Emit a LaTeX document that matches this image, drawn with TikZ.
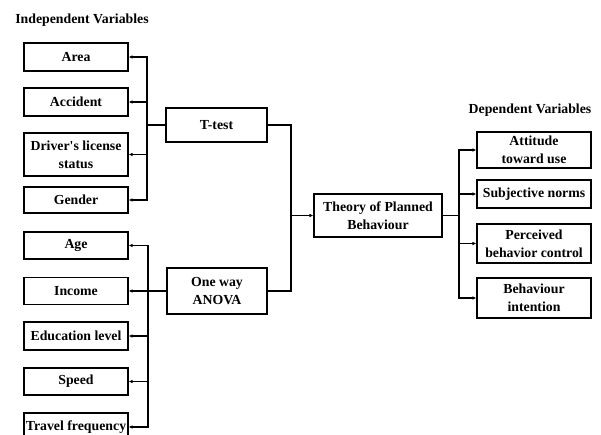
\documentclass[tikz,border=0pt]{standalone}
\usepackage{fontspec}
\setmainfont{Liberation Serif}
\usetikzlibrary{arrows.meta}
\begin{document}
\begin{tikzpicture}[x=1pt,y=-1pt,font=\bfseries\fontsize{13.8}{18}\selectfont]
	\useasboundingbox (0,0) rectangle (601,435);
	\node (indep) at (82,20) {Independent Variables};
	\node (dep) at (530,110) {Dependent Variables};
	\begin{scope}[every node/.style={draw,line width=1.1pt,align=center,inner sep=1pt,minimum width=104pt}]
	  \node[minimum height=28pt] (area) at (76,57) {Area};
	  \node[minimum height=28pt] (accident) at (76,102) {Accident};
	  \node[minimum height=43pt] (license) at (76,154.5) {Driver\textquotesingle s license\\status};
	  \node[minimum height=26pt] (gender) at (76,200) {Gender};
	  \node[minimum height=27pt] (age) at (76,245.5) {Age};
	  \node[minimum height=27pt] (income) at (76,291) {Income};
	  \node[minimum height=28pt] (edu) at (76,336) {Education level};
	  \node[minimum height=27pt] (speed) at (76,381.5) {Speed};
	  \node[minimum height=28pt] (travel) at (76,427) {Travel frequency};
	  \node[minimum width=101pt,minimum height=34pt] (ttest) at (216.5,125) {T-test};
	  \node[minimum width=100pt,minimum height=46pt] (anova) at (217,291) {One way\\ANOVA};
	  \node[minimum width=128pt,minimum height=43pt] (tpb) at (378,215.5) {Theory of Planned\\Behaviour};
	  \node[minimum width=114pt,minimum height=36pt] (attitude) at (534,150) {Attitude\\toward use};
	  \node[minimum width=114pt,minimum height=28pt] (subj) at (534,194) {Subjective norms};
	  \node[minimum width=114pt,minimum height=39pt] (perc) at (534,243.5) {Perceived\\behavior control};
	  \node[minimum width=114pt,minimum height=40pt] (intent) at (534,298) {Behaviour\\intention};
	\end{scope}
	\coordinate (j1) at (147,125);
	\coordinate (j2) at (148,291);
	\coordinate (j3) at (459,215.5);
	\coordinate (j4) at (291,215.5);
	\begin{scope}[line width=1.1pt,-{Latex[length=4pt,width=3.5pt]}]
	  \draw[-] (ttest.west) -- (j1);
	  \draw (j1) |- (area.east);
	  \draw (j1) |- (accident.east);
	  \draw (j1) |- (license.east);
	  \draw (j1) |- (gender.east);
	  \draw[-] (anova.west) -- (j2);
	  \draw (j2) |- (age.east);
	  \draw (j2) -- (income.east);
	  \draw (j2) |- (edu.east);
	  \draw (j2) |- (speed.east);
	  \draw (j2) |- (travel.east);
	  \draw[-] (ttest.east) -| (j4);
	  \draw[-] (anova.east) -| (j4);
	  \draw (j4) -- (tpb.west);
	  \draw[-] (tpb.east) -- (j3);
	  \draw (j3) |- (attitude.west);
	  \draw (j3) |- (subj.west);
	  \draw (j3) |- (perc.west);
	  \draw (j3) |- (intent.west);
	\end{scope}
\end{tikzpicture}
\end{document}
